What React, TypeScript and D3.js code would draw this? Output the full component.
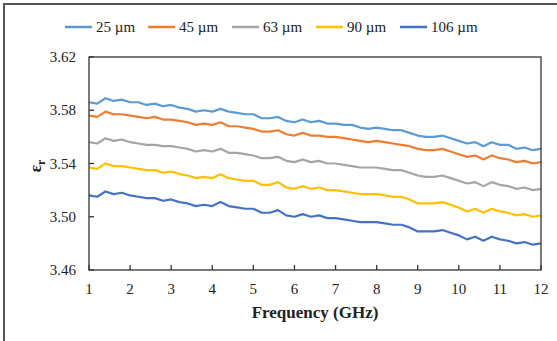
import React from "react";
import * as d3 from "d3";

const freqs: number[] = [1.0,1.2,1.4,1.6,1.8,2.0,2.2,2.4,2.6,2.8,3.0,3.2,3.4,3.6,3.8,4.0,4.2,4.4,4.6,4.8,5.0,5.2,5.4,5.6,5.8,6.0,6.2,6.4,6.6,6.8,7.0,7.2,7.4,7.6,7.8,8.0,8.2,8.4,8.6,8.8,9.0,9.2,9.4,9.6,9.8,10.0,10.2,10.4,10.6,10.8,11.0,11.2,11.4,11.6,11.8,12.0];

const s25: number[] = [3.586,3.585,3.589,3.587,3.588,3.586,3.586,3.584,3.585,3.583,3.584,3.582,3.581,3.579,3.580,3.579,3.581,3.579,3.578,3.577,3.577,3.574,3.574,3.575,3.572,3.571,3.573,3.571,3.572,3.570,3.570,3.569,3.569,3.567,3.566,3.567,3.566,3.565,3.565,3.563,3.561,3.560,3.560,3.561,3.559,3.557,3.555,3.556,3.553,3.556,3.554,3.554,3.551,3.552,3.550,3.551];
const s45: number[] = [3.576,3.575,3.579,3.577,3.577,3.576,3.575,3.574,3.575,3.573,3.573,3.572,3.571,3.569,3.570,3.569,3.571,3.568,3.568,3.567,3.566,3.564,3.564,3.565,3.562,3.561,3.563,3.561,3.561,3.560,3.560,3.559,3.558,3.557,3.556,3.557,3.556,3.555,3.554,3.553,3.551,3.550,3.550,3.551,3.549,3.547,3.545,3.546,3.543,3.546,3.544,3.543,3.541,3.542,3.540,3.541];
const s63: number[] = [3.556,3.555,3.559,3.557,3.558,3.556,3.555,3.554,3.554,3.553,3.553,3.552,3.551,3.549,3.550,3.549,3.551,3.548,3.548,3.547,3.546,3.544,3.544,3.545,3.542,3.541,3.543,3.541,3.542,3.540,3.540,3.539,3.538,3.537,3.537,3.537,3.536,3.535,3.535,3.533,3.531,3.530,3.530,3.531,3.529,3.527,3.525,3.526,3.523,3.526,3.524,3.523,3.521,3.522,3.520,3.521];
const s90: number[] = [3.537,3.536,3.540,3.538,3.538,3.537,3.536,3.535,3.535,3.533,3.534,3.532,3.531,3.529,3.530,3.529,3.532,3.529,3.528,3.527,3.527,3.524,3.524,3.526,3.522,3.521,3.523,3.521,3.522,3.520,3.520,3.519,3.518,3.517,3.517,3.517,3.516,3.515,3.515,3.513,3.510,3.510,3.510,3.511,3.509,3.507,3.504,3.506,3.503,3.506,3.504,3.503,3.501,3.502,3.500,3.501];
const s106: number[] = [3.516,3.515,3.519,3.517,3.518,3.516,3.515,3.514,3.514,3.512,3.513,3.511,3.510,3.508,3.509,3.508,3.511,3.508,3.507,3.506,3.506,3.503,3.503,3.505,3.501,3.500,3.502,3.500,3.501,3.499,3.499,3.498,3.497,3.496,3.496,3.496,3.495,3.494,3.494,3.492,3.489,3.489,3.489,3.490,3.488,3.486,3.483,3.485,3.482,3.485,3.483,3.482,3.480,3.481,3.479,3.480];

const seriesNames: string[] = ["25 µm", "45 µm", "63 µm", "90 µm", "106 µm"];
const seriesColors: string[] = ["#5B9BD5", "#ED7D31", "#A5A5A5", "#FFC000", "#4472C4"];
const seriesData: number[][] = [s25, s45, s63, s90, s106];

const xTicks: number[] = [1,2,3,4,5,6,7,8,9,10,11,12];
const yTicks: number[] = [3.46, 3.50, 3.54, 3.58, 3.62];

const W = 557, H = 341;
const left = 89, right = 541, top = 57, bottom = 270;
const FONT = `"Times New Roman", "Liberation Serif", Tinos, serif`;

export default function App() {
  const x = d3.scaleLinear().domain([1, 12]).range([left, right]);
  const y = d3.scaleLinear().domain([3.46, 3.62]).range([bottom, top]);
  const line = d3.line<number>().x((_, i) => x(freqs[i])).y((d) => y(d));
  const legendX = [65, 148, 232, 316, 400];
  const t15: React.CSSProperties = { fontFamily: FONT, fontSize: 15 };
  const t17b: React.CSSProperties = { fontFamily: FONT, fontSize: 17, fontWeight: 700 };
  return (
    <div style={{ fontFamily: FONT, position: "absolute", left: 0, top: 0, width: W, height: H }}>
      <svg width={W} height={H} style={{ display: "block", fontFamily: FONT }}>
        <rect x={0} y={0} width={W} height={H} fill="#fff" />
        <path d={`M4,${H} L4,4 L${W},4`} fill="none" stroke="#555" strokeWidth={2} />
        {seriesNames.map((n, i) => (
          <g key={n}>
            <line x1={legendX[i]} x2={legendX[i] + 27} y1={27} y2={27} stroke={seriesColors[i]} strokeWidth={2.5} />
            <text x={legendX[i] + 31} y={32} style={t15} fill="#222">{n}</text>
          </g>
        ))}
        {seriesData.map((d, i) => (
          <path key={i} d={line(d) || ""} fill="none" stroke={seriesColors[i]} strokeWidth={2.2} strokeLinejoin="round" />
        ))}
        <rect x={left} y={top} width={right - left} height={bottom - top} fill="none" stroke="#333" strokeWidth={1.3} />
        {yTicks.map((t) => (
          <g key={t}>
            <line x1={left} x2={left + 5} y1={y(t)} y2={y(t)} stroke="#333" strokeWidth={1.3} />
            <text x={76} y={y(t) + 5} textAnchor="end" style={t15} fill="#222">{t.toFixed(2)}</text>
          </g>
        ))}
        {xTicks.map((t) => (
          <g key={t}>
            <line x1={x(t)} x2={x(t)} y1={bottom} y2={bottom - 5} stroke="#333" strokeWidth={1.3} />
            <text x={x(t)} y={294} textAnchor="middle" style={t15} fill="#222">{t}</text>
          </g>
        ))}
        <text x={315} y={318} textAnchor="middle" style={t17b} fill="#222">Frequency (GHz)</text>
        <text transform={`translate(41,166) rotate(-90)`} textAnchor="middle" style={t17b} fill="#222">
          ε<tspan style={{ fontSize: 12 }} dy={4}>r</tspan>
        </text>
      </svg>
    </div>
  );
}
